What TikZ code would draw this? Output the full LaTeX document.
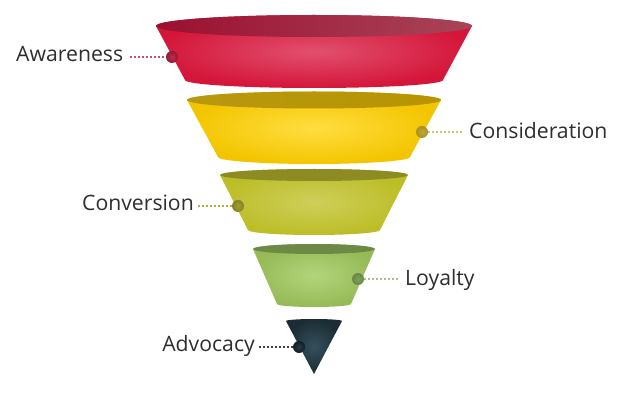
\documentclass[tikz,border=0pt]{standalone}
\usepackage{fontspec}
\setmainfont{Open Sans}
\usetikzlibrary{calc}
\definecolor{txt}{HTML}{2E2E2E}
% red
\definecolor{s1body}{HTML}{D4163A}
\definecolor{s1light}{HTML}{E2506E}
\definecolor{s1topl}{HTML}{9C1030}
\definecolor{s1topm}{HTML}{A42A45}
\definecolor{s1topr}{HTML}{A84458}
\definecolor{s1dotin}{HTML}{B8304E}
\definecolor{s1dotout}{HTML}{981535}
\definecolor{s1line}{HTML}{C05070}
% yellow
\definecolor{s2body}{HTML}{F3C500}
\definecolor{s2light}{HTML}{FFDE40}
\definecolor{s2topl}{HTML}{B89810}
\definecolor{s2topm}{HTML}{C0A030}
\definecolor{s2topr}{HTML}{B89400}
\definecolor{s2dotin}{HTML}{C0A838}
\definecolor{s2dotout}{HTML}{A89020}
\definecolor{s2line}{HTML}{D8C070}
% olive
\definecolor{s3body}{HTML}{BCBE28}
\definecolor{s3light}{HTML}{CFCE5A}
\definecolor{s3topl}{HTML}{8C8C22}
\definecolor{s3topm}{HTML}{9A9440}
\definecolor{s3topr}{HTML}{8C8C22}
\definecolor{s3dotin}{HTML}{A0A035}
\definecolor{s3dotout}{HTML}{828220}
\definecolor{s3line}{HTML}{B8B030}
% green
\definecolor{s4body}{HTML}{96BA56}
\definecolor{s4light}{HTML}{B2D57C}
\definecolor{s4topl}{HTML}{6C8A46}
\definecolor{s4topm}{HTML}{80985C}
\definecolor{s4topr}{HTML}{6C8A46}
\definecolor{s4dotin}{HTML}{80A058}
\definecolor{s4dotout}{HTML}{688646}
\definecolor{s4line}{HTML}{A8C088}
% dark
\definecolor{s5body}{HTML}{1C2C34}
\definecolor{s5light}{HTML}{34505C}
\definecolor{s5topl}{HTML}{26363E}
\definecolor{s5topm}{HTML}{3A4A52}
\definecolor{s5topr}{HTML}{26363E}
\definecolor{s5dotin}{HTML}{2A3A42}
\definecolor{s5dotout}{HTML}{121E24}
\definecolor{s5line}{HTML}{404040}
% funnel segment: #1 prefix, #2 yt, #3 rt, #4 ryt, #5 yb, #6 rb, #7 ryb
\newcommand\fseg[7]{%
  \shade[inner color=#1light, outer color=#1body]
    (314-#3,-#2) -- (314-#6,-#5)
    arc[start angle=180, end angle=360, x radius=#6, y radius=#7]
    -- (314+#3,-#2)
    arc[start angle=0, end angle=180, x radius=#3, y radius=#4] -- cycle;
  \shade[left color=#1topl, middle color=#1topm, right color=#1topr]
    (314,-#2) ellipse[x radius=#3, y radius=#4];
}
\begin{document}
\begin{tikzpicture}[x=1pt,y=1pt,
  lab/.style={font=\fontsize{21.2}{25}\selectfont, text=txt, inner sep=0pt},
  dotn/.style={circle, minimum size=12pt, inner sep=0pt, shade},
  conn/.style={line width=1.2pt, dash pattern=on 2pt off 2pt}]
\useasboundingbox (0,0) rectangle (622,-401);
\fseg{s1}{26}{158}{11}{80}{129}{8}
\fseg{s2}{100}{127}{8.5}{157}{96}{7}
\fseg{s3}{175}{94}{6}{230}{66}{5}
\fseg{s4}{249}{61}{5}{304}{37}{3}
\shade[inner color=s5light, outer color=s5body]
  (286,-321) -- (314,-374) -- (342,-321)
  arc[start angle=0, end angle=180, x radius=28, y radius=2] -- cycle;
% dots
\node[dotn, inner color=s1dotin, outer color=s1dotout] (d1) at (172,-57) {};
\node[dotn, inner color=s2dotin, outer color=s2dotout] (d2) at (422,-132) {};
\node[dotn, inner color=s3dotin, outer color=s3dotout] (d3) at (238,-206) {};
\node[dotn, inner color=s4dotin, outer color=s4dotout] (d4) at (358,-279) {};
\node[dotn, inner color=s5dotin, outer color=s5dotout] (d5) at (299,-347) {};
% labels
\node[lab, anchor=base west] (l1) at (16,-62) {Awareness};
\node[lab, anchor=base west] (l2) at (469,-139) {Consideration};
\node[lab, anchor=base east] (l3) at (194,-211) {Conversion};
\node[lab, anchor=base west] (l4) at (405,-285) {Loyalty};
\node[lab, anchor=base east] (l5) at (255,-352) {Advocacy};
% connectors
\draw[conn, s1line] ($(l1.east |- d1)+(7,0)$) -- (d1.west);
\draw[conn, s2line] (d2.east) -- ($(l2.west |- d2)+(-7,0)$);
\draw[conn, s3line] ($(l3.east |- d3)+(4,0)$) -- (d3.west);
\draw[conn, s4line] (d4.east) -- ($(l4.west |- d4)+(-7,0)$);
\draw[conn, s5line] ($(l5.east |- d5)+(4,0)$) -- (d5.west);
\end{tikzpicture}
\end{document}
